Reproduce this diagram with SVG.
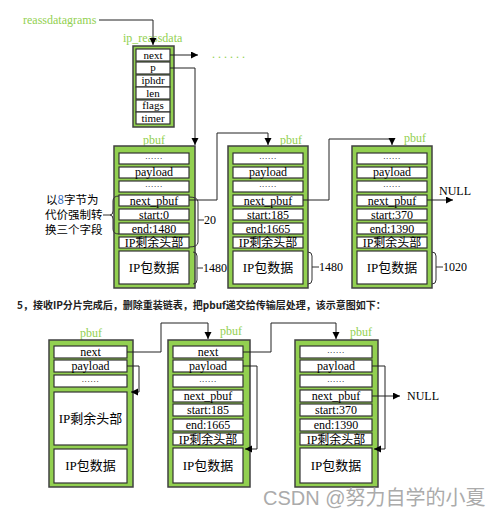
<svg xmlns="http://www.w3.org/2000/svg" width="488" height="516" viewBox="0 0 488 516">
<style>
.box{fill:#92d050;stroke:#404040;stroke-width:1.5}
.f{fill:#fff;stroke:#333;stroke-width:1.2}
.t{font-family:"Liberation Serif","Noto Sans CJK SC",serif;font-size:12px;text-anchor:middle;fill:#000}
.r{font-size:11px}
.c{font-size:13px}
.s{font-size:12px}
.d{font-family:"Liberation Serif",serif;font-size:9px;text-anchor:middle;fill:#000;letter-spacing:0.7px}
.g{font-family:"Liberation Serif",serif;font-size:12px;fill:#92d050}
.n{font-family:"Liberation Serif",serif;font-size:12px;fill:#000}
.ln{fill:none;stroke:#222;stroke-width:1}
.br{fill:none;stroke:#333;stroke-width:1}
.cj{font-family:"Noto Sans CJK SC",sans-serif;font-size:11.5px;fill:#000}
</style>
<defs>
<marker id="ah" markerUnits="userSpaceOnUse" markerWidth="8" markerHeight="8" refX="7" refY="3.5" orient="auto">
<path d="M0,0 L7,3.5 L0,7 z" fill="#000"/>
</marker>
</defs>
<rect width="488" height="516" fill="#fff"/>

<!-- top labels -->
<text class="g" x="23" y="24">reassdatagrams</text>
<text class="g" x="123" y="42">ip_reassdata</text>
<text class="g" x="212" y="58" textLength="33">......</text>

<g id="ip_reassdata">
<rect class="box" x="133" y="46" width="41" height="81"/>
<rect class="f" x="136" y="49" width="34" height="12"/><text class="t r" x="153" y="58.5">next</text>
<rect class="f" x="136" y="62" width="34" height="12"/><text class="t r" x="153" y="71">p</text>
<rect class="f" x="136" y="75" width="34" height="12"/><text class="t r" x="153" y="84">iphdr</text>
<rect class="f" x="136" y="87" width="34" height="12"/><text class="t r" x="153" y="96.5">len</text>
<rect class="f" x="136" y="100" width="34" height="12"/><text class="t r" x="153" y="109">flags</text>
<rect class="f" x="136" y="112" width="34" height="12"/><text class="t r" x="153" y="121.5">timer</text>
</g>

<!-- top pbufs -->
<g id="pbuf_t1">
<text class="g" x="143" y="144">pbuf</text>
<rect class="box" x="114" y="146" width="81" height="142"/>
<rect class="f" x="119" y="153" width="70" height="11"/><text class="d" x="154" y="159">......</text>
<rect class="f" x="119" y="167" width="70" height="11"/><text class="t" x="154" y="176">payload</text>
<rect class="f" x="119" y="181" width="70" height="11"/><text class="d" x="154" y="187">......</text>
<rect class="f" x="119" y="195" width="70" height="11"/><text class="t" x="154" y="204.5">next_pbuf</text>
<rect class="f" x="119" y="209" width="70" height="11"/><text class="t" x="154" y="218.5">start:0</text>
<rect class="f" x="119" y="223" width="70" height="11"/><text class="t" x="154" y="232.5">end:1480</text>
<rect class="f" x="119" y="237" width="70" height="11"/><text class="t s" x="154" y="247">IP剩余头部</text>
<rect class="f" x="119" y="251" width="70" height="33"/><text class="t c" x="154" y="272">IP包数据</text>
</g>
<g id="pbuf_t2">
<text class="g" x="280" y="144">pbuf</text>
<rect class="box" x="228" y="146" width="80" height="142"/>
<rect class="f" x="233" y="153" width="70" height="11"/><text class="d" x="268" y="159">......</text>
<rect class="f" x="233" y="167" width="70" height="11"/><text class="t" x="268" y="176">payload</text>
<rect class="f" x="233" y="181" width="70" height="11"/><text class="d" x="268" y="187">......</text>
<rect class="f" x="233" y="195" width="70" height="11"/><text class="t" x="268" y="204.5">next_pbuf</text>
<rect class="f" x="233" y="209" width="70" height="11"/><text class="t" x="268" y="218.5">start:185</text>
<rect class="f" x="233" y="223" width="70" height="11"/><text class="t" x="268" y="232.5">end:1665</text>
<rect class="f" x="233" y="237" width="70" height="11"/><text class="t s" x="268" y="247">IP剩余头部</text>
<rect class="f" x="233" y="251" width="70" height="33"/><text class="t c" x="268" y="272">IP包数据</text>
</g>
<g id="pbuf_t3">
<text class="g" x="404" y="142">pbuf</text>
<rect class="box" x="352" y="146" width="80" height="142"/>
<rect class="f" x="357" y="153" width="70" height="11"/><text class="d" x="392" y="159">......</text>
<rect class="f" x="357" y="167" width="70" height="11"/><text class="t" x="392" y="176">payload</text>
<rect class="f" x="357" y="181" width="70" height="11"/><text class="d" x="392" y="187">......</text>
<rect class="f" x="357" y="195" width="70" height="11"/><text class="t" x="392" y="204.5">next_pbuf</text>
<rect class="f" x="357" y="209" width="70" height="11"/><text class="t" x="392" y="218.5">start:370</text>
<rect class="f" x="357" y="223" width="70" height="11"/><text class="t" x="392" y="232.5">end:1390</text>
<rect class="f" x="357" y="237" width="70" height="11"/><text class="t s" x="392" y="247">IP剩余头部</text>
<rect class="f" x="357" y="251" width="70" height="33"/><text class="t c" x="392" y="272">IP包数据</text>
</g>

<!-- annotations top -->
<g id="annotations">
<text class="cj" x="46" y="204">以<tspan fill="#3a6fc4">8</tspan>字节为</text>
<text class="cj" x="45" y="219">代价强制转</text>
<text class="cj" x="45" y="234">换三个字段</text>
<path class="br" d="M103,215 H110"/>
<path class="br" d="M119,196 Q113,196 113,201 L113,211 Q113,215 110,215 Q113,215 113,219 L113,229 Q113,234 119,234"/>
<path class="br" d="M189,197 Q198,197 198,202 L198,242 Q198,247 189,247 M198,220 H204"/>
<text class="n" x="204" y="224">20</text>
<path class="br" d="M193,252 Q197,252 197,256 L197,280 Q197,284 193,284 M197,268 H203"/>
<text class="n" x="203" y="272">1480</text>
<path class="br" d="M308,252 Q312,252 312,256 L312,280 Q312,284 308,284 M312,267 H319"/>
<text class="n" x="319" y="271">1480</text>
<path class="br" d="M432,252 Q436,252 436,256 L436,280 Q436,284 432,284 M436,267 H443"/>
<text class="n" x="443" y="271">1020</text>
<text class="n" x="439" y="195">NULL</text>
</g>

<!-- title -->
<text x="17" y="309" font-family="Noto Sans CJK SC, sans-serif" font-size="10" font-weight="bold" fill="#222">5，接收IP分片完成后，删除重装链表，把pbuf递交给传输层处理，该示意图如下：</text>

<!-- bottom pbufs -->
<g id="pbuf_b1">
<text class="g" x="80" y="337">pbuf</text>
<rect class="box" x="49" y="340" width="84" height="147"/>
<rect class="f" x="54" y="346" width="73" height="12"/><text class="t" x="90.5" y="356">next</text>
<rect class="f" x="54" y="360" width="73" height="12"/><text class="t" x="90.5" y="369.5">payload</text>
<rect class="f" x="54" y="375" width="73" height="12"/><text class="d" x="90.5" y="382">......</text>
<rect class="f" x="54" y="392" width="73" height="53"/><text class="t c" x="90.5" y="423">IP剩余头部</text>
<rect class="f" x="54" y="449" width="73" height="34"/><text class="t c" x="90.5" y="470">IP包数据</text>
</g>
<g id="pbuf_b2">
<text class="g" x="220" y="335">pbuf</text>
<rect class="box" x="168" y="340" width="82" height="147"/>
<rect class="f" x="173" y="346" width="70" height="12"/><text class="t" x="208" y="356">next</text>
<rect class="f" x="173" y="360" width="70" height="12"/><text class="t" x="208" y="369.5">payload</text>
<rect class="f" x="173" y="375" width="70" height="12"/><text class="d" x="208" y="382">......</text>
<rect class="f" x="173" y="390" width="70" height="12"/><text class="t" x="208" y="400">next_pbuf</text>
<rect class="f" x="173" y="404" width="70" height="12"/><text class="t" x="208" y="414">start:185</text>
<rect class="f" x="173" y="419" width="70" height="12"/><text class="t" x="208" y="429">end:1665</text>
<rect class="f" x="173" y="433" width="70" height="12"/><text class="t s" x="208" y="443.5">IP剩余头部</text>
<rect class="f" x="173" y="448" width="70" height="35"/><text class="t c" x="208" y="470">IP包数据</text>
</g>
<g id="pbuf_b3">
<text class="g" x="350" y="336">pbuf</text>
<rect class="box" x="295" y="340" width="83" height="147"/>
<rect class="f" x="300" y="346" width="72" height="12"/><text class="d" x="336" y="353">......</text>
<rect class="f" x="300" y="360" width="72" height="12"/><text class="t" x="336" y="369.5">payload</text>
<rect class="f" x="300" y="375" width="72" height="12"/><text class="d" x="336" y="382">......</text>
<rect class="f" x="300" y="390" width="72" height="12"/><text class="t" x="336" y="400">next_pbuf</text>
<rect class="f" x="300" y="404" width="72" height="12"/><text class="t" x="336" y="414">start:370</text>
<rect class="f" x="300" y="419" width="72" height="12"/><text class="t" x="336" y="429">end:1390</text>
<rect class="f" x="300" y="433" width="72" height="12"/><text class="t s" x="336" y="443.5">IP剩余头部</text>
<rect class="f" x="300" y="448" width="72" height="35"/><text class="t c" x="336" y="470">IP包数据</text>
</g>
<text class="n" x="407" y="400">NULL</text>

<!-- connectors -->
<g id="connectors">
<path class="ln" d="M99,20 H153 V45" marker-end="url(#ah)"/>
<path class="ln" d="M170,55 H198" marker-end="url(#ah)"/>
<path class="ln" d="M170,68 H195 V145" marker-end="url(#ah)"/>
<path class="ln" d="M189,200 H217 V133 H268 V145" marker-end="url(#ah)"/>
<path class="ln" d="M303,200 H329 V139 H392 V145" marker-end="url(#ah)"/>
<path class="ln" d="M427,200 H453" marker-end="url(#ah)"/>
<path class="ln" d="M127,352 H161 V323 H208 V339" marker-end="url(#ah)"/>
<path class="ln" d="M243,352 H271 V323 H336 V339" marker-end="url(#ah)"/>
<path class="ln" d="M127,366 H139 V392 H131" marker-end="url(#ah)"/>
<path class="ln" d="M243,366 H257 V449 H245" marker-end="url(#ah)"/>
<path class="ln" d="M372,366 H385 V449 H374" marker-end="url(#ah)"/>
<path class="ln" d="M372,396 H400" marker-end="url(#ah)"/>
</g>

<text x="263" y="505" font-family="Liberation Sans, Noto Sans CJK SC, sans-serif" font-size="20" fill="#ababab">CSDN @努力自学的小夏</text>
</svg>
